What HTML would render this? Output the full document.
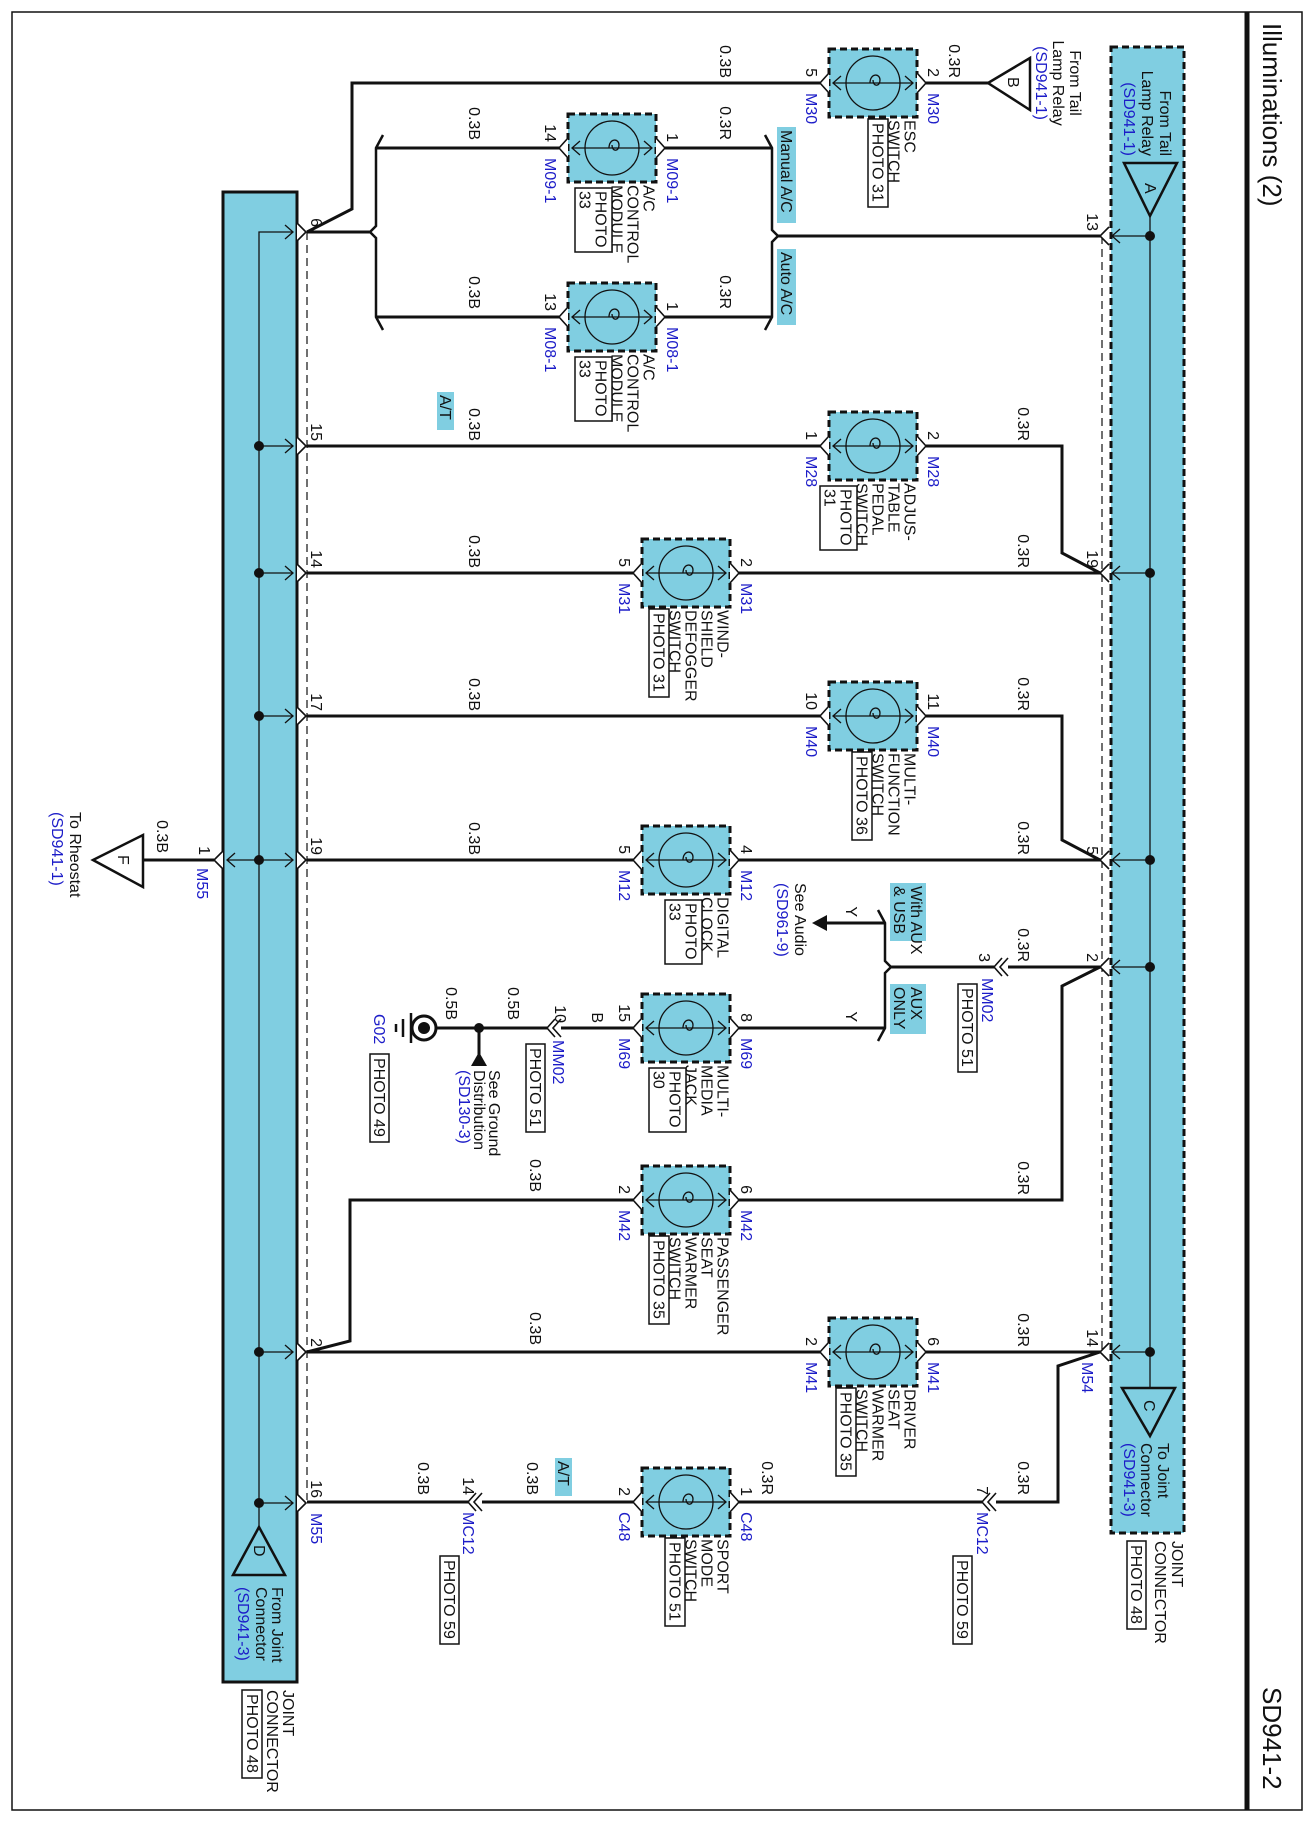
<!DOCTYPE html>
<html><head><meta charset="utf-8"><style>
html,body{margin:0;padding:0;background:#fff}
svg{display:block}
text{font-family:"Liberation Sans",Arial,sans-serif;font-size:16px;fill:#111}
.b{fill:#1c1cc8}
.w{fill:none;stroke:#111;stroke-width:3;stroke-linejoin:miter}
.t{fill:none;stroke:#111;stroke-width:1.3}
.c{fill:#fff;stroke:#111;stroke-width:1.6}
</style></head><body>
<svg width="1311" height="1839" viewBox="0 0 1311 1839" xmlns="http://www.w3.org/2000/svg">
<defs>
<g id="comp">
<rect x="-44" y="-34" width="88" height="68" fill="#80cee1" stroke="#111" stroke-width="3" stroke-dasharray="7 4"/>
<circle r="27" fill="none" stroke="#111" stroke-width="1.3"/>
<line x1="-40" y1="0" x2="40" y2="0" class="t"/>
<polyline points="-32,-7 -40,0 -32,7" class="t"/>
<polyline points="32,-7 40,0 32,7" class="t"/>
<path d="M-3,0 C-3,-10 7,-10 7,-3 C7,4 0,4 0,-3" class="t"/>
<polyline points="-44,-10 -53,0 -44,10" class="c"/>
<polyline points="44,-10 53,0 44,10" class="c"/>
</g>
</defs>

<!-- frame -->
<rect x="12" y="12" width="1290" height="1798" fill="none" stroke="#111" stroke-width="1.5"/>
<line x1="1247" y1="12" x2="1247" y2="1810" stroke="#111" stroke-width="5"/>
<text transform="translate(1263,23) rotate(90)" style="font-size:26px">Illuminations (2)</text>
<text transform="translate(1263,1687) rotate(90)" style="font-size:26px">SD941-2</text>

<!-- right bus -->
<rect x="1111" y="47" width="73" height="1486" fill="#80cee1" stroke="#111" stroke-width="3" stroke-dasharray="7 4"/>
<line x1="1150" y1="216" x2="1150" y2="1388" class="t"/>
<polygon points="1124,163 1177,163 1150,216" fill="none" stroke="#111" stroke-width="2.5"/>
<text transform="translate(1145,183) rotate(90)">A</text>
<text transform="translate(1160,156) rotate(90)" text-anchor="end">From Tail</text>
<text transform="translate(1142,156) rotate(90)" text-anchor="end">Lamp Relay</text>
<text class="b" transform="translate(1124,156) rotate(90)" text-anchor="end">(SD941-1)</text>
<polygon points="1122,1388 1175,1388 1150,1436" fill="none" stroke="#111" stroke-width="2.5"/>
<text transform="translate(1144,1400) rotate(90)">C</text>
<text transform="translate(1158,1443) rotate(90)">To Joint</text>
<text transform="translate(1141,1443) rotate(90)">Connector</text>
<text class="b" transform="translate(1124,1443) rotate(90)">(SD941-3)</text>
<text transform="translate(1172,1541) rotate(90)">JOINT</text>
<text transform="translate(1155,1541) rotate(90)">CONNECTOR</text>
<rect x="1127" y="1541" width="19" height="88" fill="none" stroke="#111" stroke-width="1.5"/>
<text transform="translate(1131,1545) rotate(90)">PHOTO 48</text>
<line x1="1102" y1="236" x2="1102" y2="1352" stroke="#111" stroke-width="1.2" stroke-dasharray="8 5"/>

<!-- right bus pins -->
<g>
<line x1="1150" y1="236" x2="1112" y2="236" class="t"/><polyline points="1120,229 1112,236 1120,243" class="t"/><polyline points="1109,227 1100,236 1109,245" class="c"/><circle cx="1150" cy="236" r="5" fill="#111"/>
<line x1="1150" y1="573" x2="1112" y2="573" class="t"/><polyline points="1120,566 1112,573 1120,580" class="t"/><polyline points="1109,564 1100,573 1109,582" class="c"/><circle cx="1150" cy="573" r="5" fill="#111"/>
<line x1="1150" y1="860" x2="1112" y2="860" class="t"/><polyline points="1120,853 1112,860 1120,867" class="t"/><polyline points="1109,851 1100,860 1109,869" class="c"/><circle cx="1150" cy="860" r="5" fill="#111"/>
<line x1="1150" y1="967" x2="1112" y2="967" class="t"/><polyline points="1120,960 1112,967 1120,974" class="t"/><polyline points="1109,958 1100,967 1109,976" class="c"/><circle cx="1150" cy="967" r="5" fill="#111"/>
<line x1="1150" y1="1352" x2="1112" y2="1352" class="t"/><polyline points="1120,1345 1112,1352 1120,1359" class="t"/><polyline points="1109,1343 1100,1352 1109,1361" class="c"/><circle cx="1150" cy="1352" r="5" fill="#111"/>
<text transform="translate(1087,231) rotate(90)" text-anchor="end">13</text>
<text transform="translate(1087,568) rotate(90)" text-anchor="end">19</text>
<text transform="translate(1087,855) rotate(90)" text-anchor="end">5</text>
<text transform="translate(1087,962) rotate(90)" text-anchor="end">2</text>
<text transform="translate(1087,1347) rotate(90)" text-anchor="end">14</text>
<text class="b" transform="translate(1082,1362) rotate(90)">M54</text>
</g>

<!-- left bus -->
<rect x="223" y="192" width="74" height="1490" fill="#80cee1" stroke="#111" stroke-width="3"/>
<polyline points="293,232 259,232 259,1527" class="t"/>
<polyline points="285,225 293,232 285,239" class="t"/>
<polyline points="297,223 306,232 297,241" class="c"/>
<polygon points="259,1527 233,1575 285,1575" fill="none" stroke="#111" stroke-width="2.5"/>
<text transform="translate(254,1545) rotate(90)">D</text>
<text transform="translate(272,1587) rotate(90)">From Joint</text>
<text transform="translate(256,1587) rotate(90)">Connector</text>
<text class="b" transform="translate(238,1587) rotate(90)">(SD941-3)</text>
<text transform="translate(283,1690) rotate(90)">JOINT</text>
<text transform="translate(267,1690) rotate(90)">CONNECTOR</text>
<rect x="242" y="1690" width="20" height="88" fill="none" stroke="#111" stroke-width="1.5"/>
<text transform="translate(247,1694) rotate(90)">PHOTO 48</text>
<line x1="307" y1="232" x2="307" y2="1500" stroke="#111" stroke-width="1.2" stroke-dasharray="8 5"/>

<g>
<line x1="259" y1="446" x2="293" y2="446" class="t"/><polyline points="285,439 293,446 285,453" class="t"/><polyline points="297,437 306,446 297,455" class="c"/><circle cx="259" cy="446" r="5" fill="#111"/>
<line x1="259" y1="573" x2="293" y2="573" class="t"/><polyline points="285,566 293,573 285,580" class="t"/><polyline points="297,564 306,573 297,582" class="c"/><circle cx="259" cy="573" r="5" fill="#111"/>
<line x1="259" y1="716" x2="293" y2="716" class="t"/><polyline points="285,709 293,716 285,723" class="t"/><polyline points="297,707 306,716 297,725" class="c"/><circle cx="259" cy="716" r="5" fill="#111"/>
<line x1="227" y1="860" x2="293" y2="860" class="t"/><polyline points="285,853 293,860 285,867" class="t"/><polyline points="235,853 227,860 235,867" class="t"/><polyline points="297,851 306,860 297,869" class="c"/><polyline points="223,851 214,860 223,869" class="c"/><circle cx="259" cy="860" r="5" fill="#111"/>
<line x1="259" y1="1352" x2="293" y2="1352" class="t"/><polyline points="285,1345 293,1352 285,1359" class="t"/><polyline points="297,1343 306,1352 297,1361" class="c"/><circle cx="259" cy="1352" r="5" fill="#111"/>
<line x1="259" y1="1503" x2="293" y2="1503" class="t"/><polyline points="285,1496 293,1503 285,1510" class="t"/><polyline points="297,1494 306,1503 297,1512" class="c"/><circle cx="259" cy="1503" r="5" fill="#111"/>
<text transform="translate(311,227) rotate(90)" text-anchor="end">6</text>
<text transform="translate(311,441) rotate(90)" text-anchor="end">15</text>
<text transform="translate(311,568) rotate(90)" text-anchor="end">14</text>
<text transform="translate(311,711) rotate(90)" text-anchor="end">17</text>
<text transform="translate(311,855) rotate(90)" text-anchor="end">19</text>
<text transform="translate(311,1347) rotate(90)" text-anchor="end">2</text>
<text transform="translate(311,1498) rotate(90)" text-anchor="end">16</text>
<text class="b" transform="translate(311,1513) rotate(90)">M55</text>
</g>

<!-- F -->
<polygon points="93,860 143,835 143,887" fill="none" stroke="#111" stroke-width="2.5"/>
<line x1="143" y1="860" x2="214" y2="860" class="w"/>
<text transform="translate(118,855) rotate(90)">F</text>
<text transform="translate(157,853) rotate(90)" text-anchor="end">0.3B</text>
<text transform="translate(199,855) rotate(90)" text-anchor="end">1</text>
<text class="b" transform="translate(197,868) rotate(90)">M55</text>
<text transform="translate(70,812) rotate(90)">To Rheostat</text>
<text class="b" transform="translate(52,812) rotate(90)">(SD941-1)</text>

<!-- wires -->
<polyline class="w" points="307,232 352,209 352,83 820,83"/>
<line class="w" x1="926" y1="83" x2="988" y2="83"/>
<line class="w" x1="307" y1="232" x2="370" y2="232"/>
<polyline points="383,135 376,148 376,226 370,232 376,238 376,317 383,330" fill="none" stroke="#111" stroke-width="2.5"/>
<line class="w" x1="376" y1="148" x2="559" y2="148"/>
<line class="w" x1="665" y1="148" x2="772" y2="148"/>
<line class="w" x1="376" y1="317" x2="559" y2="317"/>
<line class="w" x1="665" y1="317" x2="772" y2="317"/>
<polyline points="765,135 772,148 772,230 778,236 772,242 772,317 765,330" fill="none" stroke="#111" stroke-width="2.5"/>
<line class="w" x1="778" y1="236" x2="1100" y2="236"/>
<line class="w" x1="307" y1="446" x2="820" y2="446"/>
<polyline class="w" points="926,446 1062,446 1062,553 1100,573"/>
<line class="w" x1="307" y1="573" x2="633" y2="573"/>
<line class="w" x1="739" y1="573" x2="1100" y2="573"/>
<line class="w" x1="307" y1="716" x2="820" y2="716"/>
<polyline class="w" points="926,716 1062,716 1062,840 1100,860"/>
<line class="w" x1="307" y1="860" x2="633" y2="860"/>
<line class="w" x1="739" y1="860" x2="1100" y2="860"/>
<polyline points="878,910 885,923 885,961 891,967 885,973 885,1028 878,1041" fill="none" stroke="#111" stroke-width="2.5"/>
<line class="w" x1="826" y1="923" x2="885" y2="923"/>
<polygon points="812,923 827,915 827,931" fill="#111"/>
<line class="w" x1="891" y1="967" x2="994" y2="967"/>
<line class="w" x1="1000" y1="967" x2="1100" y2="967"/>
<polyline class="c" points="1002,958 994,967 1002,976"/><polyline class="c" points="1008,958 1000,967 1008,976"/>
<line class="w" x1="739" y1="1028" x2="885" y2="1028"/>
<line class="w" x1="633" y1="1028" x2="553" y2="1028"/>
<line class="w" x1="547" y1="1028" x2="436" y2="1028"/>
<polyline class="c" points="555,1019 547,1028 555,1037"/><polyline class="c" points="561,1019 553,1028 561,1037"/>
<circle cx="479" cy="1028" r="5" fill="#111"/>
<line class="w" x1="479" y1="1028" x2="479" y2="1055"/>
<polygon points="479,1052 471,1066 487,1066" fill="#111"/>
<circle cx="424" cy="1028" r="12" fill="#fff" stroke="#111" stroke-width="3"/>
<circle cx="424" cy="1028" r="6" fill="#111"/>
<line x1="411" y1="1013" x2="411" y2="1043" stroke="#111" stroke-width="2.5"/>
<line x1="403" y1="1019" x2="403" y2="1037" stroke="#111" stroke-width="2.5"/>
<line x1="396" y1="1024" x2="396" y2="1032" stroke="#111" stroke-width="2.5"/>
<polyline class="w" points="1100,967 1062,986 1062,1200 739,1200"/>
<polyline class="w" points="633,1200 350,1200 350,1341 307,1352"/>
<line class="w" x1="307" y1="1352" x2="820" y2="1352"/>
<line class="w" x1="926" y1="1352" x2="1100" y2="1352"/>
<polyline class="w" points="1100,1352 1058,1366 1058,1502 988,1502"/>
<line class="w" x1="982" y1="1502" x2="739" y2="1502"/>
<polyline class="c" points="990,1493 982,1502 990,1511"/><polyline class="c" points="996,1493 988,1502 996,1511"/>
<line class="w" x1="633" y1="1502" x2="474" y2="1502"/>
<line class="w" x1="468" y1="1502" x2="307" y2="1502"/>
<polyline class="c" points="476,1493 468,1502 476,1511"/><polyline class="c" points="482,1493 474,1502 482,1511"/>

<!-- triangle B -->
<polygon points="988,83 1030,58 1030,110" fill="none" stroke="#111" stroke-width="2.5"/>
<text transform="translate(1008,77) rotate(90)">B</text>
<text transform="translate(1070,83) rotate(90)" text-anchor="middle">From Tail</text>
<text transform="translate(1053,83) rotate(90)" text-anchor="middle">Lamp Relay</text>
<text class="b" transform="translate(1036,83) rotate(90)" text-anchor="middle">(SD941-1)</text>

<!-- split labels -->
<rect x="777" y="127" width="19" height="96" fill="#80cee1"/>
<text transform="translate(781,130) rotate(90)">Manual A/C</text>
<rect x="777" y="249" width="19" height="76" fill="#80cee1"/>
<text transform="translate(781,252) rotate(90)">Auto A/C</text>
<rect x="890" y="883" width="36" height="58" fill="#80cee1"/>
<text transform="translate(911,886) rotate(90)">With AUX</text>
<text transform="translate(894,886) rotate(90)">&amp; USB</text>
<rect x="890" y="984" width="36" height="50" fill="#80cee1"/>
<text transform="translate(911,987) rotate(90)">AUX</text>
<text transform="translate(894,987) rotate(90)">ONLY</text>
<text transform="translate(846,917) rotate(90)" text-anchor="end">Y</text>
<text transform="translate(846,1022) rotate(90)" text-anchor="end">Y</text>
<text transform="translate(795,883) rotate(90)">See Audio</text>
<text class="b" transform="translate(777,883) rotate(90)">(SD961-9)</text>
<rect x="437" y="392" width="17" height="38" fill="#80cee1"/>
<text transform="translate(440,395) rotate(90)">A/T</text>
<rect x="555" y="1458" width="17" height="38" fill="#80cee1"/>
<text transform="translate(558,1461) rotate(90)">A/T</text>

<!-- wire labels -->
<g>
<text transform="translate(720,78) rotate(90)" text-anchor="end">0.3B</text>
<text transform="translate(949,78) rotate(90)" text-anchor="end">0.3R</text>
<text transform="translate(469,140) rotate(90)" text-anchor="end">0.3B</text>
<text transform="translate(720,140) rotate(90)" text-anchor="end">0.3R</text>
<text transform="translate(469,309) rotate(90)" text-anchor="end">0.3B</text>
<text transform="translate(720,309) rotate(90)" text-anchor="end">0.3R</text>
<text transform="translate(469,441) rotate(90)" text-anchor="end">0.3B</text>
<text transform="translate(1018,441) rotate(90)" text-anchor="end">0.3R</text>
<text transform="translate(469,568) rotate(90)" text-anchor="end">0.3B</text>
<text transform="translate(1018,568) rotate(90)" text-anchor="end">0.3R</text>
<text transform="translate(469,711) rotate(90)" text-anchor="end">0.3B</text>
<text transform="translate(1018,711) rotate(90)" text-anchor="end">0.3R</text>
<text transform="translate(469,855) rotate(90)" text-anchor="end">0.3B</text>
<text transform="translate(1018,855) rotate(90)" text-anchor="end">0.3R</text>
<text transform="translate(1018,962) rotate(90)" text-anchor="end">0.3R</text>
<text transform="translate(979,962) rotate(90)" text-anchor="end">3</text>
<text class="b" transform="translate(982,978) rotate(90)">MM02</text>
<rect x="958" y="984" width="19" height="88" fill="none" stroke="#111" stroke-width="1.5"/>
<text transform="translate(962,988) rotate(90)">PHOTO 51</text>
<text transform="translate(592,1023) rotate(90)" text-anchor="end">B</text>
<text transform="translate(555,1023) rotate(90)" text-anchor="end">10</text>
<text class="b" transform="translate(553,1040) rotate(90)">MM02</text>
<rect x="526" y="1044" width="19" height="88" fill="none" stroke="#111" stroke-width="1.5"/>
<text transform="translate(530,1048) rotate(90)">PHOTO 51</text>
<text transform="translate(508,1020) rotate(90)" text-anchor="end">0.5B</text>
<text transform="translate(446,1020) rotate(90)" text-anchor="end">0.5B</text>
<text transform="translate(489,1070) rotate(90)">See Ground</text>
<text transform="translate(474,1070) rotate(90)">Distribution</text>
<text class="b" transform="translate(459,1070) rotate(90)">(SD130-3)</text>
<text class="b" transform="translate(374,1014) rotate(90)">G02</text>
<rect x="370" y="1054" width="19" height="88" fill="none" stroke="#111" stroke-width="1.5"/>
<text transform="translate(374,1058) rotate(90)">PHOTO 49</text>
<text transform="translate(530,1192) rotate(90)" text-anchor="end">0.3B</text>
<text transform="translate(1018,1195) rotate(90)" text-anchor="end">0.3R</text>
<text transform="translate(530,1345) rotate(90)" text-anchor="end">0.3B</text>
<text transform="translate(1018,1347) rotate(90)" text-anchor="end">0.3R</text>
<text transform="translate(1018,1495) rotate(90)" text-anchor="end">0.3R</text>
<text transform="translate(762,1495) rotate(90)" text-anchor="end">0.3R</text>
<text transform="translate(527,1495) rotate(90)" text-anchor="end">0.3B</text>
<text transform="translate(418,1495) rotate(90)" text-anchor="end">0.3B</text>
<text transform="translate(977,1495) rotate(90)" text-anchor="end">7</text>
<text class="b" transform="translate(977,1512) rotate(90)">MC12</text>
<rect x="953" y="1556" width="19" height="88" fill="none" stroke="#111" stroke-width="1.5"/>
<text transform="translate(957,1560) rotate(90)">PHOTO 59</text>
<text transform="translate(463,1495) rotate(90)" text-anchor="end">14</text>
<text class="b" transform="translate(463,1512) rotate(90)">MC12</text>
<rect x="440" y="1556" width="19" height="88" fill="none" stroke="#111" stroke-width="1.5"/>
<text transform="translate(444,1560) rotate(90)">PHOTO 59</text>
</g>

<!-- components -->
<g transform="translate(873,83)"><use href="#comp"/>
<text transform="translate(-67,-6) rotate(90)" text-anchor="end">5</text><text transform="translate(55,-6) rotate(90)" text-anchor="end">2</text>
<text class="b" transform="translate(-67,10) rotate(90)">M30</text><text class="b" transform="translate(55,10) rotate(90)">M30</text>
<text transform="translate(31.5,37) rotate(90)">ESC</text><text transform="translate(15.5,37) rotate(90)">SWITCH</text>
<rect x="-5" y="36" width="20" height="88" fill="none" stroke="#111" stroke-width="1.5"/><text transform="translate(-0.5,40) rotate(90)">PHOTO 31</text></g>

<g transform="translate(612,148)"><use href="#comp"/>
<text transform="translate(-67,-6) rotate(90)" text-anchor="end">14</text><text transform="translate(55,-6) rotate(90)" text-anchor="end">1</text>
<text class="b" transform="translate(-67,10) rotate(90)">M09-1</text><text class="b" transform="translate(55,10) rotate(90)">M09-1</text>
<text transform="translate(31.5,37) rotate(90)">A/C</text><text transform="translate(15.5,37) rotate(90)">CONTROL</text><text transform="translate(-0.5,37) rotate(90)">MODULE</text>
<rect x="-37" y="40" width="37" height="64" fill="none" stroke="#111" stroke-width="1.5"/><text transform="translate(-16.5,43) rotate(90)">PHOTO</text><text transform="translate(-32.5,43) rotate(90)">33</text></g>

<g transform="translate(612,317)"><use href="#comp"/>
<text transform="translate(-67,-6) rotate(90)" text-anchor="end">13</text><text transform="translate(55,-6) rotate(90)" text-anchor="end">1</text>
<text class="b" transform="translate(-67,10) rotate(90)">M08-1</text><text class="b" transform="translate(55,10) rotate(90)">M08-1</text>
<text transform="translate(31.5,37) rotate(90)">A/C</text><text transform="translate(15.5,37) rotate(90)">CONTROL</text><text transform="translate(-0.5,37) rotate(90)">MODULE</text>
<rect x="-37" y="40" width="37" height="64" fill="none" stroke="#111" stroke-width="1.5"/><text transform="translate(-16.5,43) rotate(90)">PHOTO</text><text transform="translate(-32.5,43) rotate(90)">33</text></g>

<g transform="translate(873,446)"><use href="#comp"/>
<text transform="translate(-67,-6) rotate(90)" text-anchor="end">1</text><text transform="translate(55,-6) rotate(90)" text-anchor="end">2</text>
<text class="b" transform="translate(-67,10) rotate(90)">M28</text><text class="b" transform="translate(55,10) rotate(90)">M28</text>
<text transform="translate(31.5,37) rotate(90)">ADJUS-</text><text transform="translate(15.5,37) rotate(90)">TABLE</text><text transform="translate(-0.5,37) rotate(90)">PEDAL</text><text transform="translate(-16.5,37) rotate(90)">SWITCH</text>
<rect x="-53" y="40" width="37" height="64" fill="none" stroke="#111" stroke-width="1.5"/><text transform="translate(-32.5,43) rotate(90)">PHOTO</text><text transform="translate(-48.5,43) rotate(90)">31</text></g>

<g transform="translate(686,573)"><use href="#comp"/>
<text transform="translate(-67,-6) rotate(90)" text-anchor="end">5</text><text transform="translate(55,-6) rotate(90)" text-anchor="end">2</text>
<text class="b" transform="translate(-67,10) rotate(90)">M31</text><text class="b" transform="translate(55,10) rotate(90)">M31</text>
<text transform="translate(31.5,37) rotate(90)">WIND-</text><text transform="translate(15.5,37) rotate(90)">SHIELD</text><text transform="translate(-0.5,37) rotate(90)">DEFOGGER</text><text transform="translate(-16.5,37) rotate(90)">SWITCH</text>
<rect x="-37" y="36" width="20" height="88" fill="none" stroke="#111" stroke-width="1.5"/><text transform="translate(-32.5,40) rotate(90)">PHOTO 31</text></g>

<g transform="translate(873,716)"><use href="#comp"/>
<text transform="translate(-67,-6) rotate(90)" text-anchor="end">10</text><text transform="translate(55,-6) rotate(90)" text-anchor="end">11</text>
<text class="b" transform="translate(-67,10) rotate(90)">M40</text><text class="b" transform="translate(55,10) rotate(90)">M40</text>
<text transform="translate(31.5,37) rotate(90)">MULTI-</text><text transform="translate(15.5,37) rotate(90)">FUNCTION</text><text transform="translate(-0.5,37) rotate(90)">SWITCH</text>
<rect x="-21" y="36" width="20" height="88" fill="none" stroke="#111" stroke-width="1.5"/><text transform="translate(-16.5,40) rotate(90)">PHOTO 36</text></g>

<g transform="translate(686,860)"><use href="#comp"/>
<text transform="translate(-67,-6) rotate(90)" text-anchor="end">5</text><text transform="translate(55,-6) rotate(90)" text-anchor="end">4</text>
<text class="b" transform="translate(-67,10) rotate(90)">M12</text><text class="b" transform="translate(55,10) rotate(90)">M12</text>
<text transform="translate(31.5,37) rotate(90)">DIGITAL</text><text transform="translate(15.5,37) rotate(90)">CLOCK</text>
<rect x="-21" y="40" width="37" height="64" fill="none" stroke="#111" stroke-width="1.5"/><text transform="translate(-0.5,43) rotate(90)">PHOTO</text><text transform="translate(-16.5,43) rotate(90)">33</text></g>

<g transform="translate(686,1028)"><use href="#comp"/>
<text transform="translate(-67,-6) rotate(90)" text-anchor="end">15</text><text transform="translate(55,-6) rotate(90)" text-anchor="end">8</text>
<text class="b" transform="translate(-67,10) rotate(90)">M69</text><text class="b" transform="translate(55,10) rotate(90)">M69</text>
<text transform="translate(31.5,37) rotate(90)">MULTI-</text><text transform="translate(15.5,37) rotate(90)">MEDIA</text><text transform="translate(-0.5,37) rotate(90)">JACK</text>
<rect x="-37" y="40" width="37" height="64" fill="none" stroke="#111" stroke-width="1.5"/><text transform="translate(-16.5,43) rotate(90)">PHOTO</text><text transform="translate(-32.5,43) rotate(90)">30</text></g>

<g transform="translate(686,1200)"><use href="#comp"/>
<text transform="translate(-67,-6) rotate(90)" text-anchor="end">2</text><text transform="translate(55,-6) rotate(90)" text-anchor="end">6</text>
<text class="b" transform="translate(-67,10) rotate(90)">M42</text><text class="b" transform="translate(55,10) rotate(90)">M42</text>
<text transform="translate(31.5,37) rotate(90)">PASSENGER</text><text transform="translate(15.5,37) rotate(90)">SEAT</text><text transform="translate(-0.5,37) rotate(90)">WARMER</text><text transform="translate(-16.5,37) rotate(90)">SWITCH</text>
<rect x="-37" y="36" width="20" height="88" fill="none" stroke="#111" stroke-width="1.5"/><text transform="translate(-32.5,40) rotate(90)">PHOTO 35</text></g>

<g transform="translate(873,1352)"><use href="#comp"/>
<text transform="translate(-67,-6) rotate(90)" text-anchor="end">2</text><text transform="translate(55,-6) rotate(90)" text-anchor="end">6</text>
<text class="b" transform="translate(-67,10) rotate(90)">M41</text><text class="b" transform="translate(55,10) rotate(90)">M41</text>
<text transform="translate(31.5,37) rotate(90)">DRIVER</text><text transform="translate(15.5,37) rotate(90)">SEAT</text><text transform="translate(-0.5,37) rotate(90)">WARMER</text><text transform="translate(-16.5,37) rotate(90)">SWITCH</text>
<rect x="-37" y="36" width="20" height="88" fill="none" stroke="#111" stroke-width="1.5"/><text transform="translate(-32.5,40) rotate(90)">PHOTO 35</text></g>

<g transform="translate(686,1502)"><use href="#comp"/>
<text transform="translate(-67,-6) rotate(90)" text-anchor="end">2</text><text transform="translate(55,-6) rotate(90)" text-anchor="end">1</text>
<text class="b" transform="translate(-67,10) rotate(90)">C48</text><text class="b" transform="translate(55,10) rotate(90)">C48</text>
<text transform="translate(31.5,37) rotate(90)">SPORT</text><text transform="translate(15.5,37) rotate(90)">MODE</text><text transform="translate(-0.5,37) rotate(90)">SWITCH</text>
<rect x="-21" y="36" width="20" height="88" fill="none" stroke="#111" stroke-width="1.5"/><text transform="translate(-16.5,40) rotate(90)">PHOTO 51</text></g>

</svg>
</body></html>
